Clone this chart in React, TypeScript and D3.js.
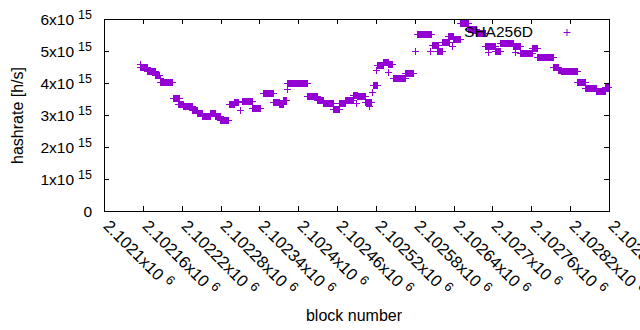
import React from 'react';
import * as d3 from 'd3';

// hashrate estimate runs: every block from start to end carries the same value (x10^15 h/s)
const runStart = [
  2102156, 2102156, 2102166, 2102179, 2102186, 2102186, 2102207, 2102214, 2102222, 2102236,
  2102244, 2102251, 2102264, 2102271, 2102279, 2102293, 2102301, 2102310, 2102313, 2102329,
  2102346, 2102361, 2102370, 2102376, 2102383, 2102383, 2102414, 2102429, 2102438, 2102454,
  2102463, 2102472, 2102485, 2102489, 2102491, 2102503, 2102509, 2102514, 2102515, 2102520,
  2102522, 2102531, 2102539, 2102539, 2102546, 2102565, 2102581, 2102583, 2102604, 2102607,
  2102614, 2102622, 2102631, 2102638, 2102639, 2102650, 2102662, 2102675, 2102688, 2102693,
  2102704, 2102712, 2102732, 2102735, 2102743, 2102761, 2102769, 2102794, 2102801, 2102806,
  2102831, 2102843, 2102860, 2102874,
];
const runEnd = [
  2102156, 2102166, 2102179, 2102185, 2102186, 2102205, 2102216, 2102222, 2102236, 2102244,
  2102251, 2102264, 2102271, 2102279, 2102292, 2102301, 2102307, 2102310, 2102329, 2102341,
  2102361, 2102370, 2102376, 2102381, 2102383, 2102414, 2102429, 2102438, 2102454, 2102463,
  2102472, 2102485, 2102491, 2102489, 2102503, 2102512, 2102509, 2102514, 2102522, 2102520,
  2102531, 2102539, 2102539, 2102545, 2102565, 2102577, 2102581, 2102605, 2102604, 2102616,
  2102622, 2102633, 2102639, 2102638, 2102650, 2102662, 2102675, 2102688, 2102704, 2102693,
  2102712, 2102732, 2102743, 2102735, 2102761, 2102769, 2102794, 2102801, 2102806, 2102831,
  2102843, 2102860, 2102874, 2102878,
];
const runRate = [
  4.59, 4.5, 4.36, 4.25, 4.16, 4.02, 3.53, 3.34, 3.28, 3.16,
  3.06, 2.97, 3.06, 2.97, 2.84, 3.34, 3.41, 3.16, 3.44, 3.22,
  3.7, 3.42, 3.34, 3.47, 3.81, 4.0, 3.58, 3.48, 3.36, 3.19,
  3.375, 3.48, 3.61, 3.375, 3.58, 3.42, 3.28, 3.72, 3.95, 4.41,
  4.55, 4.66, 4.34, 4.59, 4.17, 4.3, 5.0, 5.52, 5.0, 5.19,
  5.0, 5.27, 5.47, 5.16, 5.375, 5.89, 5.69, 5.56, 5.16, 4.97,
  5.0, 5.25, 5.17, 4.97, 4.95, 5.08, 4.81, 4.5, 4.41, 4.375,
  4.02, 3.84, 3.75, 3.86,
];

const xTicks = [
  2102100, 2102160, 2102220, 2102280, 2102340, 2102400, 2102460,
  2102520, 2102580, 2102640, 2102700, 2102760, 2102820, 2102880,
];
const xTickLabels = [
  '2.1021', '2.10216', '2.10222', '2.10228', '2.10234', '2.1024', '2.10246',
  '2.10252', '2.10258', '2.10264', '2.1027', '2.10276', '2.10282', '2.10288',
];
const yTicks = [0, 1e15, 2e15, 3e15, 4e15, 5e15, 6e15];
const yTickLabels = ['0', '1', '2', '3', '4', '5', '6'];

const W = 640;
const H = 330;
const left = 104, right = 609, top = 19, bottom = 211;
const color = '#9400d3';
const font = '"Liberation Sans", Arial, sans-serif';

export default function App() {
  const x = d3.scaleLinear().domain([2102100, 2102880]).range([left, right]);
  const y = d3.scaleLinear().domain([0, 6e15]).range([bottom, top]);

  // one '+' per block
  let d = '';
  runStart.forEach((s, i) => {
    for (let b = s; b <= runEnd[i]; b++) {
      const px = Math.round(x(b)) + 0.5;
      const py = Math.round(y(runRate[i] * 1e15)) + 0.5;
      d += `M${px - 3.5},${py}H${px + 3.5}M${px},${py - 3.5}V${py + 3.5}`;
    }
  });

  const tl = 5;

  return (
    <svg width={W} height={H} style={{ position: 'absolute', left: 0, top: 0, background: '#fff' }}
      fontFamily={font}>
      <rect width={W} height={H} fill="#fff" />

      {/* y ticks */}
      {yTicks.map((t, i) => {
        const py = Math.round(y(t)) + 0.5;
        return (
          <g key={'y' + i}>
            <line x1={left} x2={left + tl} y1={py} y2={py} stroke="#000" />
            <line x1={right - tl} x2={right} y1={py} y2={py} stroke="#000" />
            <text x={92} y={py + 5} textAnchor="end" fontSize={15.5} fill="#000">
              {t === 0 ? '0' : (
                <>
                  {yTickLabels[i] + 'x10'}
                  <tspan dx={4} dy={-6} fontSize={12.5}>15</tspan>
                </>
              )}
            </text>
          </g>
        );
      })}

      {/* x ticks */}
      {xTicks.map((t, i) => {
        const px = Math.round(x(t)) + 0.5;
        return (
          <g key={'x' + i}>
            <line x1={px} x2={px} y1={bottom} y2={bottom - tl} stroke="#000" />
            <line x1={px} x2={px} y1={top} y2={top + tl} stroke="#000" />
            <text transform={`translate(${px - 2},${227}) rotate(45)`} fontSize={16.5} fill="#000">
              {xTickLabels[i] + 'x10'}
              <tspan dx={5} dy={-6} fontSize={13}>6</tspan>
            </text>
          </g>
        );
      })}

      <path d={d} stroke={color} strokeWidth={1} fill="none" />

      <rect x={left + 0.5} y={top + 0.5} width={right - left} height={bottom - top}
        fill="none" stroke="#000" />

      {/* key */}
      <text x={533} y={37} textAnchor="end" fontSize={15.5} fill="#000">SHA256D</text>
      <path d={`M563.5,32.5H570.5M567,29V36`} stroke={color} strokeWidth={1} />

      <text transform={`translate(23,115.5) rotate(-90)`} textAnchor="middle" fontSize={16} fill="#000">
        hashrate [h/s]
      </text>
      <text x={354} y={321} textAnchor="middle" fontSize={16} fill="#000">block number</text>
    </svg>
  );
}
